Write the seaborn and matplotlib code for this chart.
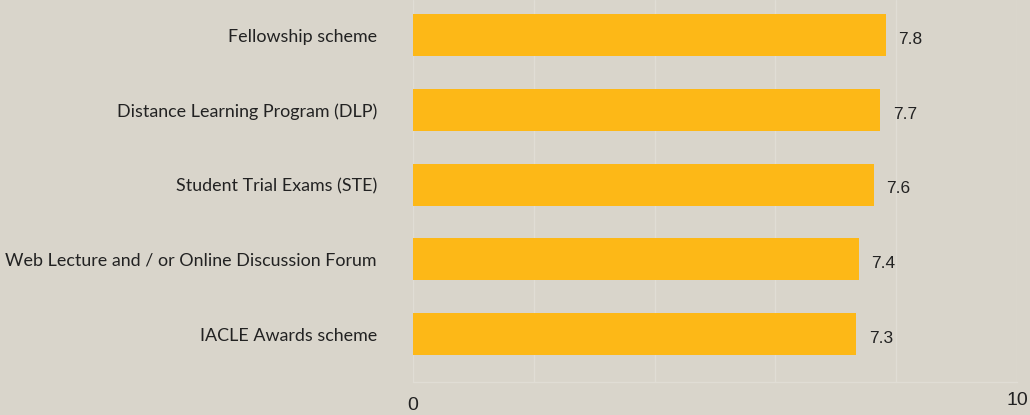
import pandas as pd
import matplotlib.pyplot as plt
import seaborn as sns
from matplotlib.transforms import ScaledTranslation

# Data
programs = ['Fellowship scheme',
            'Distance Learning Program (DLP)',
            'Student Trial Exams (STE)',
            'Web Lecture and / or Online Discussion Forum',
            'IACLE Awards scheme']
scores = [7.83, 7.74, 7.63, 7.38, 7.34]

bg = '#D9D5CB'
bar_color = '#FDB817'
grid_color = '#E0DDD5'
text_color = '#222222'

data = pd.DataFrame({'program': programs, 'score': scores})

sns.set_style('white')
fig = plt.figure(figsize=(10.3, 4.15), dpi=100)
fig.patch.set_facecolor(bg)
ax = fig.add_axes([413 / 1030, 1 - 382 / 415, (1017 - 413) / 1030, 382 / 415])
ax.set_facecolor(bg)

sns.barplot(data=data, x='score', y='program', orient='h', color=bar_color,
            width=0.56, saturation=1, linewidth=0, ax=ax)

ax.set_xlim(0, 10)
ax.set_ylim(4.64, -0.47)
ax.set_xticks([0, 2, 4, 6, 8, 10])
ax.set_xticklabels(['0', '', '', '', '', '10'], fontsize=14, color=text_color,
                   family='Liberation Sans')
ax.tick_params(axis='x', length=0, pad=11)
ax.tick_params(axis='y', length=0, pad=26)
for lab in ax.get_yticklabels():
    lab.set_family('Lato')
    lab.set_fontsize(12.85)
    lab.set_color(text_color)
# the "10" sits a little higher than the "0"
ten = ax.get_xticklabels()[-1]
ten.set_transform(ten.get_transform() + ScaledTranslation(0, 3.6 / 72, fig.dpi_scale_trans))

ax.grid(axis='x', color=grid_color, linewidth=1)
ax.set_axisbelow(True)
for side in ['top', 'right', 'left']:
    ax.spines[side].set_visible(False)
ax.spines['bottom'].set_color(grid_color)
ax.spines['bottom'].set_linewidth(1)

ax.set_xlabel('')
ax.set_ylabel('')

for i, v in enumerate(scores):
    ax.annotate(f'{v:.1f}', xy=(v, i), xytext=(9, -3), textcoords='offset points',
                ha='left', va='center', fontsize=12.5, color=text_color,
                family='Liberation Sans')

fig.savefig('out.png', dpi=100, facecolor=bg)
